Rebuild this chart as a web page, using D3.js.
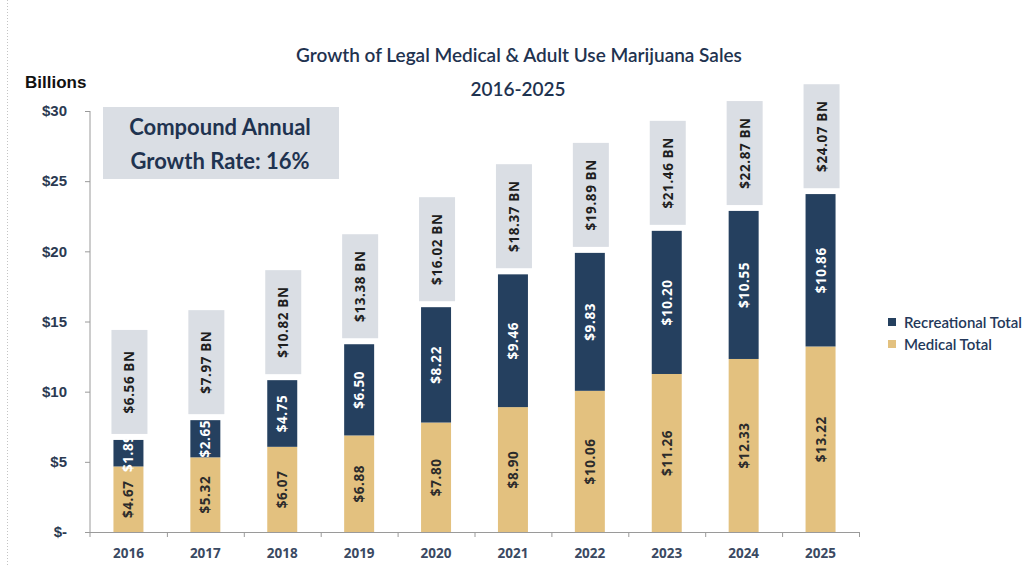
<!DOCTYPE html>
<html>
<head>
<meta charset="utf-8">
<script src="https://cdn.jsdelivr.net/npm/d3@7/dist/d3.min.js"></script>
<style>
  html, body { margin: 0; padding: 0; background: #fff; }
  svg { display: block; }
</style>
</head>
<body>
<svg id="chart" width="1028" height="567"></svg>
<script>
// Sales in billions of US dollars, by year
const years = ["2016", "2017", "2018", "2019", "2020", "2021", "2022", "2023", "2024", "2025"];
const medical = [4.67, 5.32, 6.07, 6.88, 7.80, 8.90, 10.06, 11.26, 12.33, 13.22];
const recreational = [1.89, 2.65, 4.75, 6.50, 8.22, 9.46, 9.83, 10.20, 10.55, 10.86];
const totals = [6.56, 7.97, 10.82, 13.38, 16.02, 18.37, 19.89, 21.46, 22.87, 24.07];
const yTicks = [0, 5, 10, 15, 20, 25, 30];
const yTickLabels = ["$-", "$5", "$10", "$15", "$20", "$25", "$30"];
const seriesNames = ["Recreational Total", "Medical Total"];

const colors = { medical: "#e3c17f", recreational: "#25405f", box: "#dadee4", ink: "#1f3350" };

const svg = d3.select("#chart");

// dotted rule along the left edge
svg.append("line")
  .attr("x1", 7.5).attr("x2", 7.5).attr("y1", 0).attr("y2", 567)
  .attr("stroke", "#c4c4c4").attr("stroke-dasharray", "1,2");

const x = d3.scaleBand().domain(years).range([90, 859]).padding(0);
const y = d3.scaleLinear().domain([0, 30]).range([532, 111]);
const barW = x.bandwidth() * 0.39;
const cx = d => x(d) + x.bandwidth() / 2;

// title
const title = svg.append("text")
  .attr("text-anchor", "middle")
  .attr("font-family", "Lato, 'Open Sans', sans-serif")
  .attr("font-weight", 600)
  .attr("font-size", 19)
  .attr("fill", colors.ink);
title.append("tspan").attr("x", 519).attr("y", 62).text("Growth of Legal Medical & Adult Use Marijuana Sales");
title.append("tspan").attr("x", 518).attr("y", 96).text("2016-2025");

// unit label
svg.append("text")
  .attr("x", 25).attr("y", 88)
  .attr("font-family", "'Liberation Sans', Arial, sans-serif")
  .attr("font-weight", "bold")
  .attr("font-size", 17)
  .attr("fill", "#111")
  .text("Billions");

// y axis
const yAxis = d3.axisLeft(y)
  .tickValues(yTicks)
  .tickFormat((d, i) => yTickLabels[i])
  .tickSize(5)
  .tickPadding(18);
const gy = svg.append("g").attr("transform", "translate(90,0)").call(yAxis);
gy.select(".domain").attr("stroke", "#9a9a9a").attr("d", "M0,111V537");
gy.selectAll(".tick line").attr("stroke", "#9a9a9a");
gy.selectAll(".tick text")
  .attr("font-family", "'Liberation Sans', Arial, sans-serif")
  .attr("font-weight", "bold")
  .attr("font-size", 15)
  .attr("fill", "#2b3a52");

// x axis with ticks between categories
const gx = svg.append("g").attr("transform", "translate(0,532)");
gx.append("line").attr("x1", 90).attr("x2", 859).attr("y1", 0.5).attr("y2", 0.5).attr("stroke", "#9a9a9a");
gx.selectAll("line.sep")
  .data(years.slice(1))
  .join("line")
  .attr("class", "sep")
  .attr("x1", d => x(d) + 0.5).attr("x2", d => x(d) + 0.5)
  .attr("y1", 0).attr("y2", 5)
  .attr("stroke", "#9a9a9a");
gx.append("line").attr("x1", 859.5).attr("x2", 859.5).attr("y1", 0).attr("y2", 5).attr("stroke", "#9a9a9a");
gx.selectAll("text.year")
  .data(years)
  .join("text")
  .attr("class", "year")
  .attr("x", d => cx(d))
  .attr("y", 26)
  .attr("text-anchor", "middle")
  .attr("font-family", "'Open Sans', sans-serif")
  .attr("font-weight", 700)
  .attr("font-size", 13.5)
  .attr("fill", "#3a4962")
  .text(d => d);

// stacked bars
const rows = years.map((yr, i) => ({ yr, med: medical[i], rec: recreational[i], total: totals[i] }));

svg.selectAll("rect.med")
  .data(rows)
  .join("rect")
  .attr("class", "med")
  .attr("x", d => cx(d.yr) - barW / 2)
  .attr("width", barW)
  .attr("y", d => y(d.med))
  .attr("height", d => y(0) - y(d.med))
  .attr("fill", colors.medical);

svg.selectAll("rect.rec")
  .data(rows)
  .join("rect")
  .attr("class", "rec")
  .attr("x", d => cx(d.yr) - barW / 2)
  .attr("width", barW)
  .attr("y", d => y(d.med + d.rec))
  .attr("height", d => y(d.med) - y(d.med + d.rec))
  .attr("fill", colors.recreational);

const labelFont = sel => sel
  .attr("text-anchor", "middle")
  .attr("dominant-baseline", "central")
  .attr("font-family", "'Open Sans', sans-serif")
  .attr("font-weight", 700)
  .attr("font-size", 13.5)
  .attr("letter-spacing", 0.6);

// segment values, rotated to read upward
svg.selectAll("text.medlab")
  .data(rows)
  .join("text")
  .attr("class", "medlab")
  .attr("transform", d => `translate(${cx(d.yr)},${(y(0) + y(d.med)) / 2}) rotate(-90)`)
  .call(labelFont)
  .attr("fill", "#2b2b2b")
  .text(d => "$" + d.med.toFixed(2));

svg.selectAll("text.reclab")
  .data(rows)
  .join("text")
  .attr("class", "reclab")
  .attr("transform", d => `translate(${cx(d.yr)},${(y(d.med) + y(d.med + d.rec)) / 2}) rotate(-90)`)
  .call(labelFont)
  .attr("fill", "#ffffff")
  .text(d => "$" + d.rec.toFixed(2));

// total callouts above each bar
const boxW = 36, boxH = 104, boxGap = 6;
const callouts = svg.selectAll("g.total")
  .data(rows)
  .join("g")
  .attr("class", "total");
callouts.append("rect")
  .attr("x", d => cx(d.yr) - boxW / 2 + 1)
  .attr("y", d => y(d.total) - boxGap - boxH)
  .attr("width", boxW)
  .attr("height", boxH)
  .attr("fill", colors.box);
callouts.append("text")
  .attr("transform", d => `translate(${cx(d.yr) + 1},${y(d.total) - boxGap - boxH / 2}) rotate(-90)`)
  .call(labelFont)
  .attr("fill", "#1e1e1e")
  .text(d => "$" + d.total.toFixed(2) + " BN");

// growth-rate note
svg.append("rect")
  .attr("x", 103).attr("y", 107).attr("width", 236).attr("height", 72)
  .attr("fill", colors.box);
const note = svg.append("text")
  .attr("text-anchor", "middle")
  .attr("font-family", "Lato, 'Open Sans', sans-serif")
  .attr("font-weight", 700)
  .attr("font-size", 22)
  .attr("fill", colors.ink);
note.append("tspan").attr("x", 220).attr("y", 135).text("Compound Annual");
note.append("tspan").attr("x", 220).attr("y", 169).text("Growth Rate: 16%");

// legend
const legend = svg.append("g").attr("transform", "translate(888,0)");
const legendKeys = [
  { name: seriesNames[0], color: colors.recreational, cy: 322 },
  { name: seriesNames[1], color: colors.medical, cy: 344 }
];
legend.selectAll("rect")
  .data(legendKeys)
  .join("rect")
  .attr("x", 0).attr("y", d => d.cy - 4)
  .attr("width", 8).attr("height", 8)
  .attr("fill", d => d.color);
legend.selectAll("text")
  .data(legendKeys)
  .join("text")
  .attr("x", 16).attr("y", d => d.cy)
  .attr("dominant-baseline", "central")
  .attr("font-family", "Lato, 'Open Sans', sans-serif")
  .attr("font-weight", 600)
  .attr("font-size", 15)
  .attr("fill", "#24385a")
  .text(d => d.name);
</script>
</body>
</html>
